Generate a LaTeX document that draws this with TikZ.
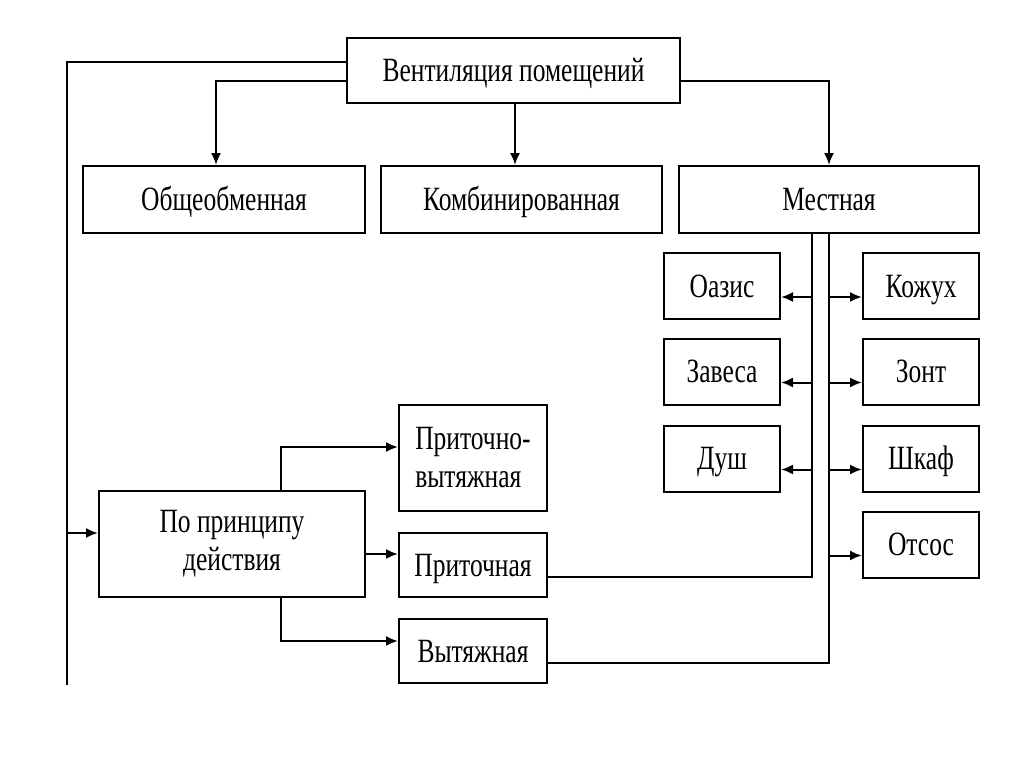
\documentclass[tikz,border=0pt]{standalone}
\usepackage{fontspec}
\setmainfont[FakeStretch=0.75]{Liberation Serif}
\usetikzlibrary{arrows.meta}
\begin{document}
\begin{tikzpicture}[x=1pt,y=-1pt,
 box/.style={draw, line width=2pt, inner sep=2pt, font=\fontsize{34}{38}\selectfont, align=center},
 one/.style={text height=30pt, text depth=7.5pt},
 arr/.style={line width=2pt, -{Latex[length=12pt,width=10pt]}},
 ln/.style={line width=2pt}]
\useasboundingbox[fill=white] (0,0) rectangle (1024,768);
% nodes
\node[box, one, minimum width=333pt, minimum height=65pt] (top) at (513.5,70.5) {Вентиляция помещений};
\node[box, one, minimum width=282pt, minimum height=67pt] (obsh) at (224,199.5) {Общеобменная};
\node[box, one, minimum width=281pt, minimum height=67pt] (komb) at (521.5,199.5) {Комбинированная};
\node[box, one, minimum width=300pt, minimum height=67pt] (mest) at (829,199.5) {Местная};
\node[box, one, minimum width=116pt, minimum height=66pt] (oasis) at (722,286) {Оазис};
\node[box, one, minimum width=116pt, minimum height=66pt] (zavesa) at (722,371.5) {Завеса};
\node[box, one, minimum width=116pt, minimum height=66pt] (dush) at (722,458.5) {Душ};
\node[box, one, minimum width=116pt, minimum height=66pt] (kozh) at (921,286) {Кожух};
\node[box, one, minimum width=116pt, minimum height=66pt] (zont) at (921,371.5) {Зонт};
\node[box, one, minimum width=116pt, minimum height=66pt] (shkaf) at (921,458.5) {Шкаф};
\node[box, one, minimum width=116pt, minimum height=66pt] (otsos) at (921,544.5) {Отсос};
\node[box, minimum width=266pt, minimum height=106pt] (princ) at (232,544) {По принципу\\действия};
\node[box, minimum width=148pt, minimum height=106pt, align=left] (pv) at (473,458) {Приточно-\\вытяжная};
\node[box, one, minimum width=148pt, minimum height=64pt] (prit) at (473,565) {Приточная};
\node[box, one, minimum width=148pt, minimum height=64pt] (vyt) at (473,651) {Вытяжная};
% top connectors
\coordinate (lt) at (67,62);
\coordinate (lb) at (67,685);
\draw[ln] ([yshift=8.5pt]top.west) -- (lt) -- (lb);
\draw[arr] ([yshift=-10.5pt]top.west) -| ([xshift=-8pt]obsh.north);
\draw[arr] ([xshift=1.5pt]top.south) -- ([xshift=1.5pt]top.south |- komb.north);
\draw[arr] ([yshift=-10.5pt]top.east) -| (mest.north);
% left bus to principle
\coordinate (pin) at ([yshift=11pt]princ.west);
\draw[arr] (lb |- pin) -- (pin);
% Mestnaya buses
\coordinate (vl) at ([xshift=-17pt]mest.south);
\coordinate (vr) at (mest.south);
\coordinate (pe) at ([yshift=-12pt]prit.east);
\coordinate (ve) at ([yshift=-12pt]vyt.east);
\draw[ln] (vl) -- (vl |- pe) -- (pe);
\draw[ln] (vr) -- (vr |- ve) -- (ve);
\foreach \n in {oasis,zavesa,dush}{
  \coordinate (t) at ([yshift=-11pt]\n.east);
  \draw[arr] (vl |- t) -- (t);
}
\foreach \n in {kozh,zont,shkaf,otsos}{
  \coordinate (t) at ([yshift=-11pt]\n.west);
  \draw[arr] (vr |- t) -- (t);
}
% principle to types
\coordinate (pa) at ([xshift=49pt]princ.north);
\coordinate (pb) at ([xshift=49pt]princ.south);
\coordinate (pvw) at ([yshift=11pt]pv.west);
\coordinate (vyw) at ([yshift=10pt]vyt.west);
\draw[arr] (pa) |- (pvw);
\draw[arr] ([yshift=-10pt]princ.east) -- ([yshift=-10pt]princ.east -| prit.west);
\draw[arr] (pb) |- (vyw);
\end{tikzpicture}
\end{document}
